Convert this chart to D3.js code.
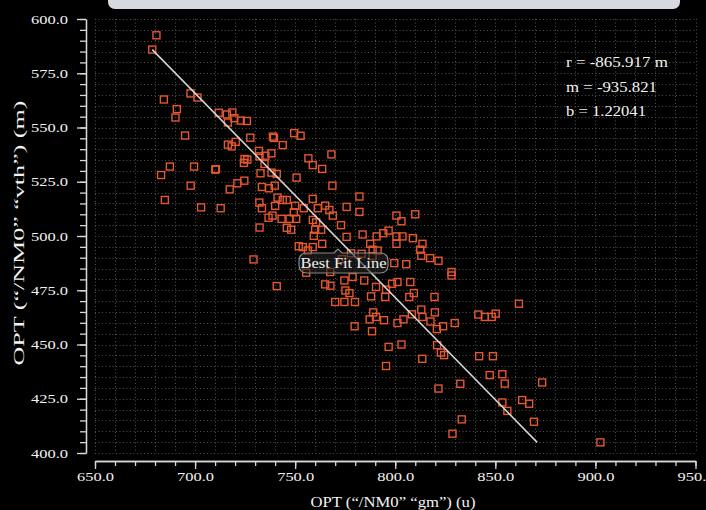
<!DOCTYPE html>
<html lang="en">
<head>
    <meta charset="UTF-8" />
    <title>OPT vth vs gm</title>
    <script src="https://d3js.org/d3.v7.min.js"></script>
    <style>
        body { margin: 0; background: #000; }
        text { font-family: "Liberation Serif", "Times New Roman", serif; fill: #f2f2f2; }
    </style>
</head>
<body>
    <script>
        // points (gm, vth)
        const gmVals = [680.7,678.6,697.7,701.2,684.4,690.9,690.2,695.0,711.8,715.9,718.6,716.4,719.6,722.8,725.9,727.6,720.3,716.4,718.3,738.9,
            739.4,743.8,749.5,752.7,731.9,732.2,735.1,738.1,724.7,726.1,724.4,734.7,756.6,687.4,683.0,699.5,710.1,710.4,732.7,738.2,
            740.8,750.7,724.6,721.1,717.3,697.8,733.4,736.9,739.8,684.9,703.0,712.8,732.1,733.4,741.2,743.8,745.8,740.0,750.0,754.3,
            749.3,736.7,738.7,743.2,747.2,750.5,732.2,745.8,748.0,
            729.2,740.8,751.8,753.8,756.3,755.5,
            768.1,758.8,763.5,768.6,758.8,782.1,765.0,761.3,767.1,768.8,775.7,782.1,758.8,760.5,772.9,760.0,763.0,759.3,763.5,758.8,
            775.7,783.7,790.7,794.0,796.7,800.6,803.1,810.0,800.6,803.6,808.8,800.6,787.5,788.7,791.2,813.6,812.5,813.0,817.4,821.6,
            777.9,783.2,788.7,773.4,799.5,805.5,828.1,828.1,767.5,774.6,778.7,784.5,765.0,767.6,775.1,777.1,790.4,795.4,798.4,801.1,
            807.5,809.3,807.0,787.9,795.0,819.6,
            770.0,774.6,779.9,789.0,790.4,787.2,794.4,779.7,788.4,801.1,804.1,808.3,813.0,813.6,819.8,817.6,820.8,823.9,829.7,796.7,
            803.1,820.9,822.8,824.4,813.5,795.4,832.5,821.6,833.2,828.6,
            861.8,841.5,844.8,848.2,850.2,841.9,848.8,847.2,853.5,854.7,873.4,853.5,856.0,863.4,866.9,869.3,902.5];
        const vthVals = [592.5,585.9,565.7,563.8,562.9,558.5,554.6,546.3,556.8,556.0,556.9,552.3,554.3,553.2,553.0,545.3,543.4,542.1,541.3,545.8,
            545.2,541.9,547.4,546.2,539.2,536.7,537.0,538.1,535.5,535.2,533.7,533.2,535.8,532.0,528.1,532.0,530.6,530.8,528.9,529.2,
            528.6,526.9,525.5,524.3,521.5,523.2,522.6,522.0,523.2,516.6,513.2,512.8,515.4,512.8,517.7,516.6,516.6,513.9,513.9,512.8,
            510.9,508.4,509.4,507.9,507.9,507.9,503.9,503.8,502.9,
            489.2,476.9,495.3,494.9,493.3,483.1,
            537.6,532.7,530.9,523.2,517.1,518.2,514.0,512.8,512.0,509.4,513.4,511.1,507.4,506.3,505.0,502.9,502.9,500.1,496.4,494.9,
            499.6,500.7,499.8,501.3,502.5,509.4,506.8,510.0,499.8,499.8,499.0,496.4,496.4,493.7,493.3,496.4,493.7,490.9,489.8,488.6,
            492.0,491.8,490.7,489.3,487.5,487.0,483.4,481.8,483.4,479.5,481.1,479.5,477.7,477.1,474.9,473.7,476.5,475.3,478.0,478.8,
            478.8,473.7,471.9,472.2,471.9,471.9,
            469.6,469.6,469.6,464.8,462.7,461.6,461.2,458.4,456.1,459.9,461.6,463.9,466.1,462.7,464.8,460.6,457.1,458.4,459.9,448.9,
            450.0,449.7,446.3,445.1,443.4,440.1,431.9,429.7,415.5,408.9,
            468.8,463.8,462.7,462.7,464.2,444.6,444.6,435.9,436.3,432.0,432.5,423.3,419.4,424.4,422.7,414.4,404.9];

        // best fit line ends
        const fitGm = [678.6, 870.9];
        const fitVth = [585.9, 404.9];

        const statLines = ["r = -865.917 m", "m = -935.821", "b = 1.22041"];
        const xTickVals = [650, 700, 750, 800, 850, 900, 950];
        const yTickVals = [400, 425, 450, 475, 500, 525, 550, 575, 600];

        const width = 706, height = 510;
        const svg = d3.select("body").append("svg")
            .attr("width", width)
            .attr("height", height);

        svg.append("rect").attr("width", width).attr("height", height).attr("fill", "#000");

        // little grey panel edge at the top
        svg.append("rect")
            .attr("x", 108).attr("y", -10)
            .attr("width", 572).attr("height", 19)
            .attr("rx", 7)
            .attr("fill", "#d6d9dd");

        const x = d3.scaleLinear().domain([650, 950]).range([95, 695.5]);
        const y = d3.scaleLinear().domain([400, 600]).range([453, 19]);

        // dotted grid
        const grid = svg.append("g").attr("stroke", "#505050").attr("stroke-width", 1)
            .attr("stroke-dasharray", "1,2.5");
        grid.selectAll(".gv").data(d3.range(650, 951, 10)).enter().append("line")
            .attr("x1", d => Math.round(x(d)) + 0.5).attr("x2", d => Math.round(x(d)) + 0.5)
            .attr("y1", y(600)).attr("y2", y(400));
        grid.selectAll(".gh").data(d3.range(400, 601, 5)).enter().append("line")
            .attr("y1", d => Math.round(y(d)) + 0.5).attr("y2", d => Math.round(y(d)) + 0.5)
            .attr("x1", x(650)).attr("x2", x(950));

        // axes
        const fmt = d3.format(".1f");
        const axisCol = "#d8d8d8";

        const yMinor = svg.append("g").attr("transform", "translate(86,0)")
            .call(d3.axisLeft(y).tickValues(d3.range(400, 601, 5)).tickSize(6).tickSizeOuter(0).tickFormat(""));
        const yMajor = svg.append("g").attr("transform", "translate(86,0)")
            .call(d3.axisLeft(y).tickValues(yTickVals).tickSize(9).tickPadding(9).tickSizeOuter(0).tickFormat(fmt));

        const xMinor = svg.append("g").attr("transform", "translate(0,461)")
            .call(d3.axisBottom(x).tickValues(d3.range(650, 951, 10)).tickSize(5).tickSizeOuter(0).tickFormat(""));
        const xMajor = svg.append("g").attr("transform", "translate(0,461)")
            .call(d3.axisBottom(x).tickValues(xTickVals).tickSize(8).tickPadding(3).tickSizeOuter(0).tickFormat(fmt));

        [yMinor, yMajor, xMinor, xMajor].forEach(g => {
            g.selectAll("path, line").attr("stroke", axisCol).attr("stroke-width", 1.3);
            g.selectAll("text")
                .style("font-family", '"Liberation Serif", "Times New Roman", serif')
                .style("font-size", "13px")
                .attr("fill", "#f2f2f2")
                .attr("textLength", 37)
                .attr("lengthAdjust", "spacingAndGlyphs");
        });

        // points
        const pts = gmVals.map((g, i) => [g, vthVals[i]]);
        svg.append("g").selectAll("rect").data(pts).enter().append("rect")
            .attr("x", d => x(d[0]) - 3.5)
            .attr("y", d => y(d[1]) - 3.5)
            .attr("width", 7).attr("height", 7)
            .attr("fill", "none")
            .attr("stroke", "#e5572c")
            .attr("stroke-width", 1.4);

        // fit line
        svg.append("line")
            .attr("x1", x(fitGm[0])).attr("y1", y(fitVth[0]))
            .attr("x2", x(fitGm[1])).attr("y2", y(fitVth[1]))
            .attr("stroke", "#d4d4d4")
            .attr("stroke-width", 1.6);

        // "Best Fit Line" callout
        const bx = 299, by = 253, bw = 89, bh = 20, r = 8, nx = 338;
        const callout = `M${bx + r},${by} L${nx - 4},${by} L${nx},${by - 4} L${nx + 4},${by} L${bx + bw - r},${by}
            Q${bx + bw},${by} ${bx + bw},${by + r} L${bx + bw},${by + bh - r} Q${bx + bw},${by + bh} ${bx + bw - r},${by + bh}
            L${bx + r},${by + bh} Q${bx},${by + bh} ${bx},${by + bh - r} L${bx},${by + r} Q${bx},${by} ${bx + r},${by} Z`;
        svg.append("path")
            .attr("d", callout)
            .attr("fill", "rgba(35,35,35,0.6)")
            .attr("stroke", "#8a8a8a")
            .attr("stroke-width", 1.2);
        svg.append("text")
            .attr("x", bx + bw / 2).attr("y", by + 15)
            .attr("text-anchor", "middle")
            .style("font-size", "15px")
            .attr("textLength", 86).attr("lengthAdjust", "spacingAndGlyphs")
            .text("Best Fit Line");

        // stats
        const statW = [102, 91, 80];
        svg.append("g").selectAll("text").data(statLines).enter().append("text")
            .attr("x", 566)
            .attr("y", (d, i) => 67 + i * 24.5)
            .style("font-size", "14px")
            .attr("textLength", (d, i) => statW[i])
            .attr("lengthAdjust", "spacingAndGlyphs")
            .text(d => d);

        // axis titles
        svg.append("text")
            .attr("x", 393).attr("y", 507)
            .attr("text-anchor", "middle")
            .style("font-size", "15px")
            .attr("textLength", 165).attr("lengthAdjust", "spacingAndGlyphs")
            .text("OPT (“/NM0” “gm”) (u)");

        svg.append("text")
            .attr("transform", "translate(24,233) rotate(-90)")
            .attr("text-anchor", "middle")
            .style("font-size", "14px")
            .attr("textLength", 265).attr("lengthAdjust", "spacingAndGlyphs")
            .text("OPT (“/NM0” “vth”) (m)");
    </script>
</body>
</html>
